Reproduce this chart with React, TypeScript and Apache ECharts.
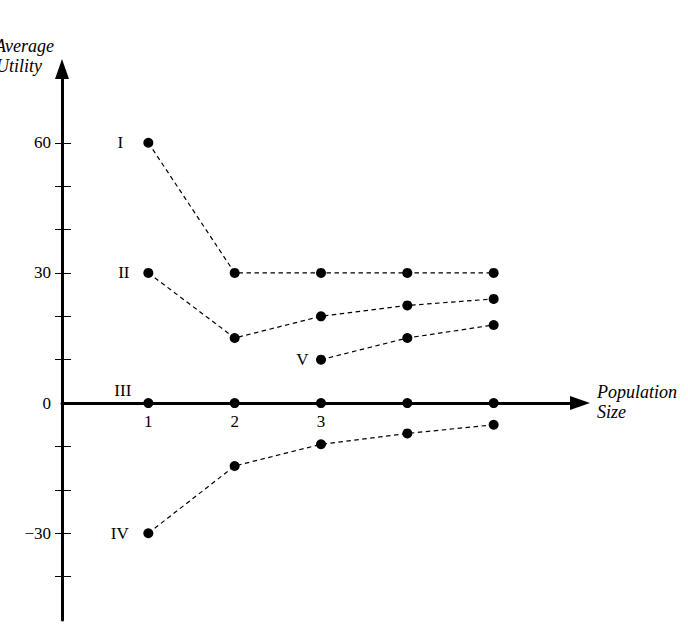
import React, { useEffect, useRef } from "react";
import * as echarts from "echarts";

const xValues = [1, 2, 3, 4, 5];
const seriesI = [60, 30, 30, 30, 30];
const seriesII = [30, 15, 20, 22.5, 24];
const seriesIII = [0, 0, 0, 0, 0];
const seriesIV = [-30, -14.5, -9.5, -7, -5];
const xValuesV = [3, 4, 5];
const seriesV = [10, 15, 18];
const seriesNames = ["I", "II", "III", "IV", "V"];

const yTickValues = [-40, -30, -20, -10, 10, 20, 30, 40, 50, 60];
const yLabelValues = [-30, 0, 30, 60];
const xLabelValues = [1, 2, 3];

const FONT = "'Liberation Serif', 'DejaVu Serif', serif";

function build(xs: number[], ys: number[], name: string, offset: number[], showLine = true) {
  const data = xs.map((x, i) => {
    const item: any = { value: [x, ys[i]] };
    if (i === 0) {
      item.label = {
        show: true,
        formatter: name,
        position: "inside",
        offset,
        align: "center",
        verticalAlign: "middle",
        color: "#000",
        fontSize: 17,
        fontFamily: FONT,
      };
    }
    return item;
  });
  return {
    type: "line",
    name,
    data,
    symbol: "circle",
    symbolSize: 10,
    itemStyle: { color: "#000" },
    lineStyle: { color: "#000", width: 1.2, type: [4.5, 3.5], opacity: showLine ? 1 : 0 },
    z: 5,
  };
}

export default function App() {
  const ref = useRef<HTMLDivElement>(null);
  useEffect(() => {
    if (!ref.current) return;
    const chart = echarts.init(ref.current, null, { renderer: "svg" });
    const textStyle = { fontSize: 18, fontFamily: FONT, fontStyle: "italic", fill: "#000" };
    chart.setOption({
      animation: false,
      backgroundColor: "#fff",
      grid: { left: 62, right: 108, top: 69, bottom: 15, containLabel: false, outerBoundsMode: "none" },
      xAxis: {
        type: "value",
        min: 0,
        max: 6,
        position: "bottom",
        offset: -217,
        splitLine: { show: false },
        axisLine: {
          onZero: false,
          symbol: ["none", "triangle"],
          symbolSize: [14, 20],
          lineStyle: { color: "#000", width: 3 },
        },
        axisTick: { show: false },
        axisLabel: {
          customValues: xLabelValues,
          margin: 10,
          color: "#000",
          fontSize: 17,
          fontFamily: FONT,
        },
      },
      yAxis: [
        {
          type: "value",
          min: -50,
          max: 77,
          position: "left",
          splitLine: { show: false },
          axisLine: {
            show: true,
            onZero: false,
            symbol: ["none", "triangle"],
            symbolSize: [14, 20],
            lineStyle: { color: "#000", width: 3 },
          },
          axisTick: {
            show: true,
            customValues: yTickValues,
            length: 7,
            lineStyle: { color: "#000", width: 1 },
          },
          axisLabel: {
            customValues: yLabelValues,
            margin: 11,
            color: "#000",
            fontSize: 17,
            fontFamily: FONT,
            formatter: (v: number) => (v < 0 ? "\u2212" + Math.abs(v) : String(v)),
          },
        },
        {
          type: "value",
          min: -50,
          max: 77,
          position: "left",
          offset: 0,
          splitLine: { show: false },
          axisLine: { show: false, onZero: false },
          axisTick: {
            show: true,
            inside: true,
            customValues: yTickValues,
            length: 9,
            lineStyle: { color: "#000", width: 1 },
          },
          axisLabel: { show: false },
        },
      ],
      series: [
        build(xValues, seriesI, seriesNames[0], [-28, 0]),
        build(xValues, seriesII, seriesNames[1], [-24.5, 0]),
        build(xValues, seriesIII, seriesNames[2], [-25.5, -13], false),
        build(xValues, seriesIV, seriesNames[3], [-28.5, 0]),
        build(xValuesV, seriesV, seriesNames[4], [-18.5, 0]),
      ],
      graphic: [
        { type: "text", x: -5, y: 46, style: { ...textStyle, text: "Average", textVerticalAlign: "middle" } },
        { type: "text", x: -4, y: 66, style: { ...textStyle, text: "Utility", textVerticalAlign: "middle" } },
        { type: "text", x: 597, y: 392, style: { ...textStyle, text: "Population", textVerticalAlign: "middle" } },
        { type: "text", x: 597, y: 412, style: { ...textStyle, text: "Size", textVerticalAlign: "middle" } },
      ],
    });
    return () => chart.dispose();
  }, []);
  return (
    <div
      ref={ref}
      style={{ position: "fixed", left: 0, top: 0, width: 688, height: 635, background: "#fff" }}
    />
  );
}
